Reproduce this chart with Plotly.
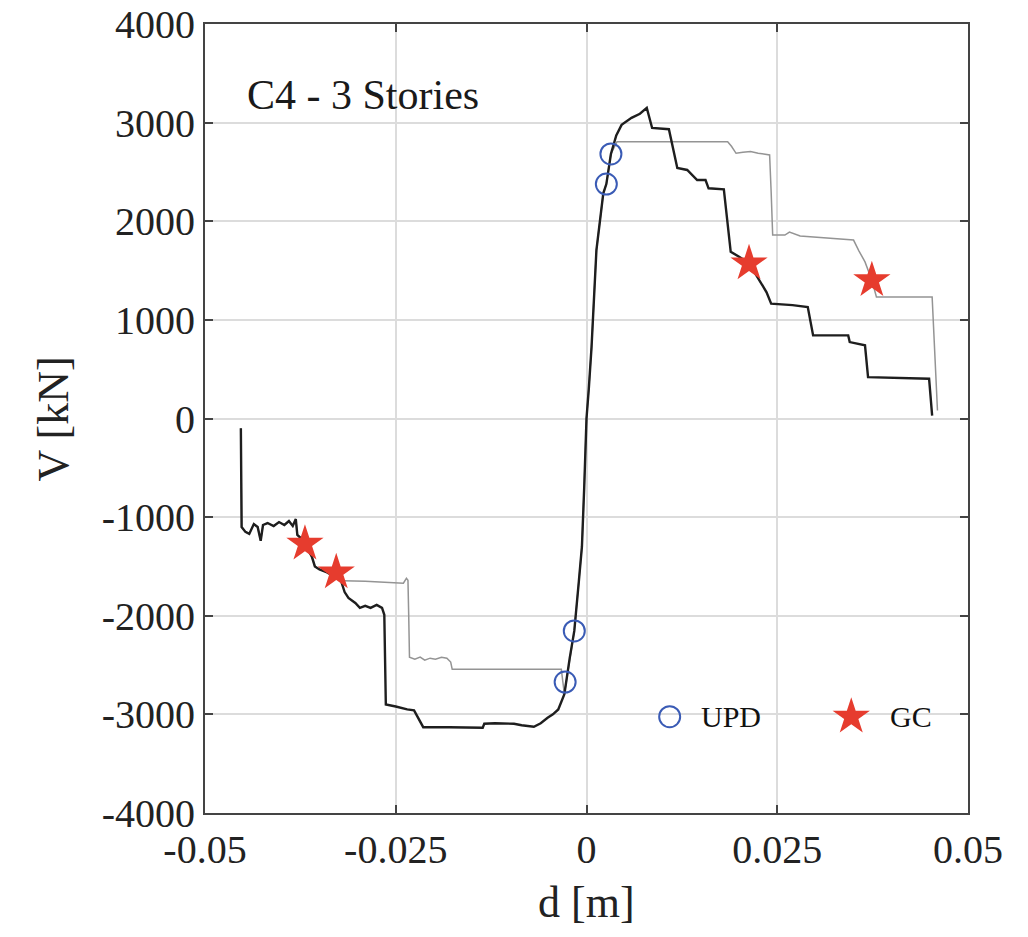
import plotly.graph_objects as go

# Black curve (d [m], V [kN])
black_d = [-0.0453, -0.0452, -0.0447, -0.0442, -0.0436, -0.0431, -0.0427, -0.0424, -0.0418,
           -0.0410, -0.0403, -0.0396, -0.0390, -0.0385, -0.0381, -0.0379, -0.0372, -0.0365,
           -0.0360, -0.0356, -0.0350, -0.0340, -0.0330, -0.0322, -0.0317, -0.0312, -0.0303,
           -0.0297, -0.0290, -0.0283, -0.0275, -0.0268, -0.0265, -0.0264, -0.0263, -0.0250,
           -0.0235, -0.0226, -0.0222, -0.0214, -0.0180, -0.0150, -0.0136, -0.0134, -0.0120,
           -0.0095, -0.0085, -0.0069, -0.0060, -0.0051, -0.0044, -0.0037, -0.0029, -0.0022,
           -0.0016, -0.0010, -0.0006, -0.0003, 0.0,
           0.0003, 0.00066, 0.0013, 0.0018, 0.0022, 0.0026, 0.0032, 0.0039, 0.0046, 0.0059,
           0.0070, 0.0079, 0.0086, 0.0108, 0.0112, 0.0119, 0.0132, 0.0145, 0.0156, 0.0160,
           0.0180, 0.0183, 0.0187, 0.0189, 0.0200, 0.0213, 0.0222, 0.0229, 0.0236, 0.0242,
           0.0270, 0.0290, 0.0293, 0.0297, 0.0343, 0.0345, 0.0365, 0.0369, 0.0449, 0.0453]
black_v = [-100, -1100, -1150, -1170, -1070, -1100, -1240, -1080, -1060,
           -1090, -1050, -1080, -1040, -1090, -1020, -1180, -1230, -1330,
           -1400, -1500, -1530, -1560, -1600, -1640, -1760, -1820, -1870,
           -1920, -1900, -1920, -1890, -1920, -1990, -2700, -2900, -2920,
           -2950, -2960, -3020, -3130, -3130, -3130, -3135, -3095, -3090,
           -3095, -3110, -3125, -3090, -3035, -3000, -2950, -2795, -2430,
           -2154, -1650, -1300, -700, 0,
           300, 724, 1707, 2050, 2283, 2377, 2682, 2870, 2977, 3048,
           3090, 3150, 2946, 2933, 2800, 2540, 2520, 2418, 2418, 2334,
           2323, 2100, 1800, 1690, 1640, 1572, 1460, 1368, 1280, 1165,
           1150, 1131, 1000, 843, 843, 775, 742, 420, 403, 30]

# Gray curve (d [m], V [kN])
gray_d = [-0.0453, -0.0452, -0.0447, -0.0442, -0.0436, -0.0431, -0.0427, -0.0424, -0.0418,
          -0.0410, -0.0403, -0.0396, -0.0390, -0.0385, -0.0381, -0.0379, -0.0372, -0.0365,
          -0.0360, -0.0356, -0.0350, -0.0340, -0.0330, -0.0319, -0.0290, -0.0270, -0.0250,
          -0.0240, -0.0236, -0.0234, -0.0233, -0.0232, -0.0225, -0.0218, -0.0212, -0.0205,
          -0.0198, -0.0190, -0.0183, -0.0178, -0.0176, -0.0033, -0.0029, -0.0022, -0.0016,
          -0.0010, -0.0006, -0.0003, 0.0,
          0.0003, 0.00066, 0.0013, 0.0018, 0.0022, 0.0026, 0.0032, 0.0040, 0.0185, 0.0190,
          0.0196, 0.0205, 0.0215, 0.0225, 0.0240, 0.0242, 0.0244, 0.0260, 0.0266, 0.0280,
          0.0300, 0.0330, 0.0350, 0.0357, 0.0365, 0.0374, 0.0380, 0.0453, 0.0460]
gray_v = [-100, -1100, -1150, -1170, -1070, -1100, -1240, -1080, -1060,
          -1090, -1050, -1080, -1040, -1090, -1020, -1180, -1230, -1330,
          -1400, -1500, -1530, -1560, -1600, -1646, -1650, -1660, -1670,
          -1670, -1620, -1640, -2000, -2420, -2440, -2420, -2450, -2430,
          -2440, -2420, -2430, -2470, -2543, -2543, -2795, -2430, -2154,
          -1650, -1300, -700, 0,
          300, 724, 1707, 2050, 2283, 2377, 2682, 2807, 2807, 2760,
          2689, 2700, 2706, 2690, 2672, 2300, 1860, 1860, 1890, 1850,
          1840, 1820, 1809, 1700, 1588, 1402, 1233, 1233, 81]

# UPD points (blue open circles)
upd_d = [-0.0028, -0.0016, 0.0026, 0.0032]
upd_v = [-2672, -2154, 2377, 2682]

# GC points (red stars)
gc_d = [-0.0369, -0.0328, 0.0213, 0.0374]
gc_v = [-1270, -1561, 1572, 1402]

x_ticks = [-0.05, -0.025, 0, 0.025, 0.05]
x_ticktext = ["-0.05", "-0.025", "0", "0.025", "0.05"]
y_ticks = [-4000, -3000, -2000, -1000, 0, 1000, 2000, 3000, 4000]
y_ticktext = ["-4000", "-3000", "-2000", "-1000", "0", "1000", "2000", "3000", "4000"]

legend_names = ["UPD", "GC"]

FONT = "Liberation Serif"
BLUE = "#3a5bb5"
RED = "#e63c2e"

fig = go.Figure()
fig.add_trace(go.Scatter(x=gray_d, y=gray_v, mode="lines",
                         line=dict(color="#949494", width=1.5), showlegend=False))
fig.add_trace(go.Scatter(x=black_d, y=black_v, mode="lines",
                         line=dict(color="#1e1e1e", width=2.4), showlegend=False))
fig.add_trace(go.Scatter(x=upd_d, y=upd_v, mode="markers",
                         marker=dict(symbol="circle-open", size=21, color=BLUE,
                                     line=dict(width=2, color=BLUE)),
                         showlegend=False))
fig.add_trace(go.Scatter(x=gc_d, y=gc_v, mode="markers",
                         marker=dict(symbol="star", size=28, color=RED,
                                     line=dict(width=0)),
                         showlegend=False))

# Manual legend (large symbols) on an overlay axis pair
fig.add_trace(go.Scatter(x=[0.609], y=[0.122], xaxis="x2", yaxis="y2", mode="markers",
                         marker=dict(symbol="circle-open", size=21, color=BLUE,
                                     line=dict(width=2, color=BLUE)),
                         showlegend=False, hoverinfo="skip"))
fig.add_trace(go.Scatter(x=[0.847], y=[0.122], xaxis="x2", yaxis="y2", mode="markers",
                         marker=dict(symbol="star", size=28, color=RED, line=dict(width=0)),
                         showlegend=False, hoverinfo="skip"))

axis_common = dict(
    showline=True, linecolor="#444444", linewidth=2, mirror="ticks",
    ticks="inside", ticklen=8, tickwidth=1.5, tickcolor="#444444",
    showgrid=True, gridcolor="#dcdcdc", gridwidth=1.5,
    zeroline=False, automargin=False, ticklabeloverflow="allow",
    tickfont=dict(family=FONT, size=40, color="#222222"),
)

# page body has an 8px margin -> figure is offset by 8px
fig.update_layout(
    width=1020, height=929,
    margin=dict(l=197, r=60, t=16, b=124),
    paper_bgcolor="white", plot_bgcolor="white",
    showlegend=False,
    xaxis=dict(range=[-0.05, 0.05], tickvals=x_ticks, ticktext=x_ticktext, **axis_common),
    yaxis=dict(range=[-4000, 4000], tickvals=y_ticks, ticktext=y_ticktext, **axis_common),
    xaxis2=dict(overlaying="x", range=[0, 1], visible=False, fixedrange=True),
    yaxis2=dict(overlaying="y", range=[0, 1], visible=False, fixedrange=True),
    shapes=[dict(type="rect", xref="paper", yref="paper", x0=0.553, x1=0.990,
                 y0=0.046, y1=0.150, fillcolor="white", line=dict(width=0),
                 layer="between")],
    annotations=[
        dict(text="C4 - 3 Stories", xref="paper", yref="paper", x=0.052, y=0.910,
             xanchor="left", yanchor="middle", showarrow=False,
             font=dict(family=FONT, size=42, color="#1a1a1a")),
        dict(text="d [m]", xref="paper", yref="paper", x=0.5, y=-0.114,
             xanchor="center", yanchor="middle", showarrow=False,
             font=dict(family=FONT, size=44, color="#222222")),
        dict(text="V [kN]", xref="paper", yref="paper", x=-0.199, y=0.499,
             xanchor="center", yanchor="middle", showarrow=False, textangle=-90,
             font=dict(family=FONT, size=44, color="#222222")),
        dict(text=legend_names[0], xref="paper", yref="paper", x=0.648, y=0.122,
             xanchor="left", yanchor="middle", showarrow=False,
             font=dict(family=FONT, size=30, color="#111111")),
        dict(text=legend_names[1], xref="paper", yref="paper", x=0.895, y=0.122,
             xanchor="left", yanchor="middle", showarrow=False,
             font=dict(family=FONT, size=30, color="#111111")),
    ],
)

fig.write_html("out.html")
